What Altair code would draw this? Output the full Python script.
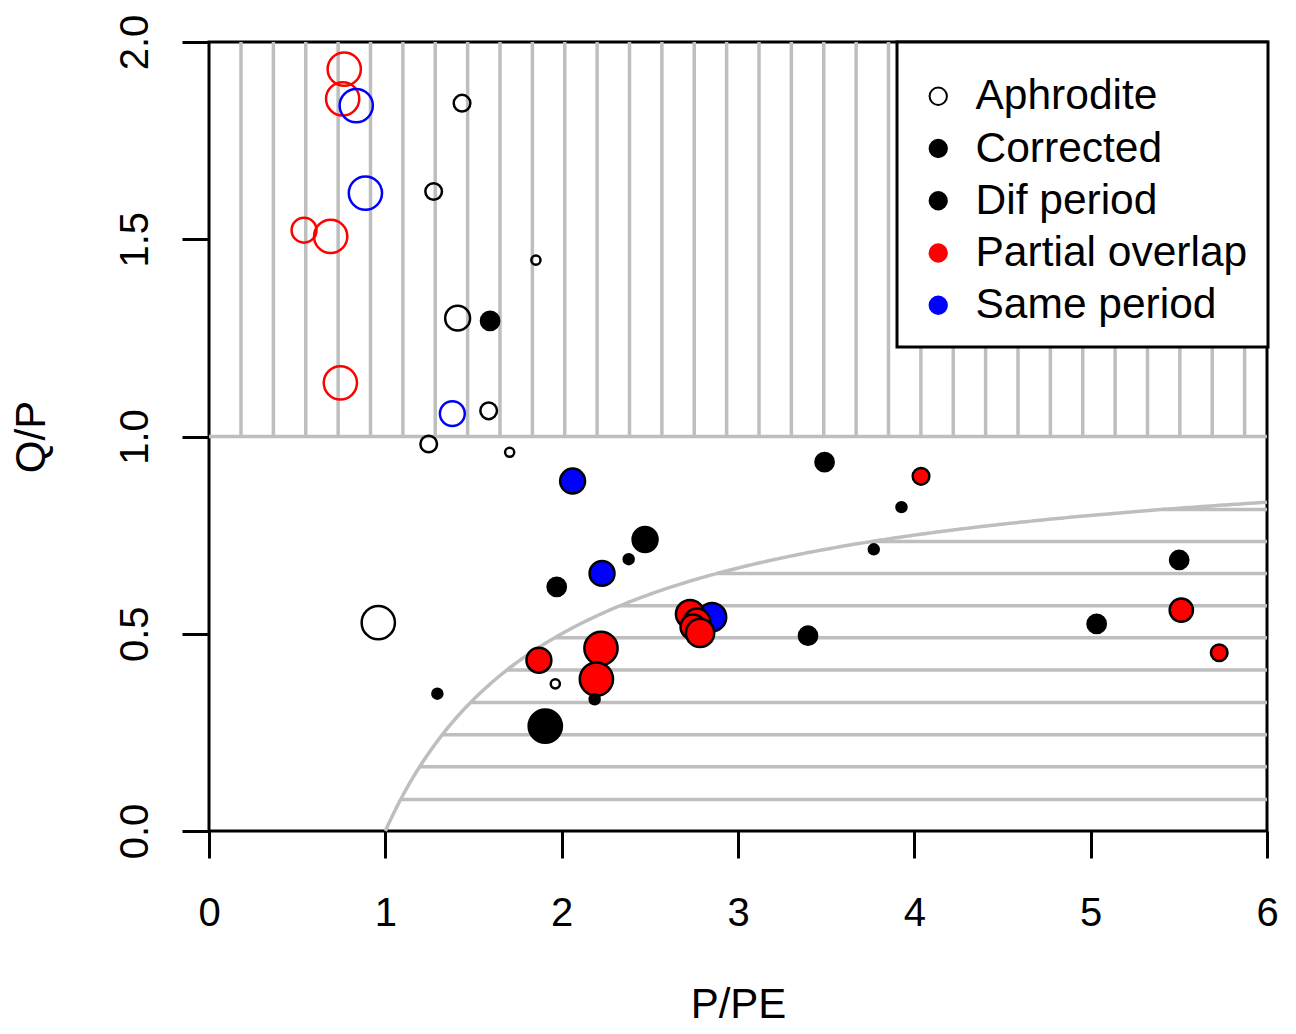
import altair as alt
import pandas as pd
import numpy as np

# ---------------- data ----------------
groups = ["Aphrodite", "Corrected", "Dif period", "Partial overlap", "Same period"]
group_colors = ["black", "black", "black", "#FF0000", "#0000FF"]
legend_fill = ["white", "black", "black", "#FF0000", "#0000FF"]

pt_x = [0.767, 0.758, 0.835, 1.435, 0.887, 1.274, 0.539, 0.690, 1.854, 1.410,
        1.594, 0.745, 1.380, 1.586,
        1.246, 1.705, 2.062, 2.473, 2.380, 2.229, 1.972, 0.960, 2.223, 1.871,
        2.197, 1.964, 1.295, 2.187, 1.907, 3.491, 4.038, 3.927, 3.770,
        2.853, 2.728, 2.768, 2.745, 2.785,
        3.397, 5.502, 5.514, 5.034, 5.729]
pt_y = [1.931, 1.856, 1.839, 1.845, 1.617, 1.621, 1.523, 1.507, 1.447, 1.300,
        1.293, 1.136, 1.058, 1.065,
        0.981, 0.960, 0.887, 0.739, 0.689, 0.653, 0.619, 0.528, 0.463, 0.433,
        0.385, 0.373, 0.348, 0.334, 0.266, 0.935, 0.899, 0.821, 0.714,
        0.542, 0.550, 0.530, 0.517, 0.502,
        0.495, 0.687, 0.560, 0.525, 0.452]
pt_w = [20, 20, 20, 10, 20, 10, 15, 20, 5.5, 15,
        11, 20, 15, 10,
        10, 5.5, 15, 15, 6, 15, 11, 20, 20, 15,
        20, 5.5, 6, 6, 20, 11, 10, 6, 6,
        17, 17, 16, 15, 17,
        11, 11, 14, 11, 10]
pt_group = ["Partial overlap", "Partial overlap", "Same period", "Aphrodite", "Same period",
            "Aphrodite", "Partial overlap", "Partial overlap", "Aphrodite", "Aphrodite",
            "Dif period", "Partial overlap", "Same period", "Aphrodite",
            "Aphrodite", "Aphrodite", "Same period", "Dif period", "Corrected", "Same period",
            "Dif period", "Aphrodite", "Partial overlap", "Partial overlap",
            "Partial overlap", "Aphrodite", "Corrected", "Corrected", "Dif period",
            "Dif period", "Partial overlap", "Corrected", "Corrected",
            "Same period", "Partial overlap", "Partial overlap", "Partial overlap", "Partial overlap",
            "Dif period", "Dif period", "Partial overlap", "Dif period", "Partial overlap"]
pt_filled = [False] * 10 + [True] + [False] * 3 + \
            [False, False, True, True, True, True, True, False, True, True,
             True, False, True, True, True, True, True, True, True,
             True, True, True, True, True,
             True, True, True, True, True]

# hatching
hatch_h_y = [0.080, 0.163, 0.244, 0.326, 0.408, 0.490, 0.571, 0.653, 0.734, 0.815]
hatch_v_x0 = 0.1815
hatch_v_step = 0.1836

x_ticks = [0, 1, 2, 3, 4, 5, 6]
y_ticks = [0.0, 0.5, 1.0, 1.5, 2.0]

# ---------------- tables ----------------
cmap = dict(zip(groups, group_colors))
pts = pd.DataFrame({"x": pt_x, "y": pt_y, "w": pt_w, "group": pt_group, "filled": pt_filled})
pts["fillc"] = [cmap[g] if f else "transparent" for g, f in zip(pts.group, pts.filled)]
pts["strokec"] = ["black" if f else cmap[g] for g, f in zip(pts.group, pts.filled)]
pts["order"] = range(len(pts))

vlines = pd.DataFrame({"x": [hatch_v_x0 + hatch_v_step * k for k in range(32)]})
vlines["y"] = 1.0
vlines["y2"] = 2.0

hlines = pd.DataFrame({"y": hatch_h_y})
hlines["x"] = 1.0 / (1.0 - hlines["y"])
hlines["x2"] = 6.0

oneline = pd.DataFrame({"x": [0.0], "x2": [6.0], "y": [1.0]})

cx = np.linspace(1.0, 6.0, 300)
curve = pd.DataFrame({"x": cx, "y": 1.0 - 1.0 / cx})

leg = pd.DataFrame({"group": groups, "x": [-1.0] * 5, "y": [-1.0] * 5})

# ---------------- encodings ----------------
FONT = "Liberation Sans"
GRAY = "#BEBEBE"
LW = 3.5

xaxis = alt.Axis(values=x_ticks, format="d", title="P/PE", grid=False, domain=False,
                 tickSize=27, tickWidth=3, tickColor="black",
                 labelFontSize=40, labelFont=FONT, labelColor="black",
                 labelPadding=67, labelBaseline="alphabetic", labelFlush=False,
                 labelOverlap=False, labelBound=False,
                 titleFontSize=42, titleFont=FONT, titleFontWeight="normal", titleColor="black",
                 titleX=529, titleY=186, titleBaseline="alphabetic", titleAlign="center")
yaxis = alt.Axis(values=y_ticks, format=".1f", title="Q/P", grid=False, domain=False,
                 tickSize=27, tickWidth=3, tickColor="black",
                 labelFontSize=40, labelFont=FONT, labelColor="black",
                 labelAngle=270, labelAlign="center", labelBaseline="alphabetic",
                 labelPadding=35, labelFlush=False, labelOverlap=False, labelBound=False,
                 titleFontSize=42, titleFont=FONT, titleFontWeight="normal", titleColor="black",
                 titleAngle=270, titleX=-165, titleY=394.5, titleBaseline="alphabetic",
                 titleAlign="center")

xs = alt.Scale(domain=[0, 6], nice=False, zero=False)
ys = alt.Scale(domain=[0, 2], nice=False, zero=False)
X = alt.X("x:Q", scale=xs, axis=xaxis)
Y = alt.Y("y:Q", scale=ys, axis=yaxis)

vl = alt.Chart(vlines).mark_rule(color=GRAY, strokeWidth=LW).encode(x=X, y=Y, y2="y2:Q")
hl = alt.Chart(hlines).mark_rule(color=GRAY, strokeWidth=LW).encode(x=X, x2="x2:Q", y=Y)
one = alt.Chart(oneline).mark_rule(color=GRAY, strokeWidth=LW).encode(x=X, x2="x2:Q", y=Y)
cur = alt.Chart(curve).mark_line(color=GRAY, strokeWidth=LW).encode(x=X, y=Y)

points = alt.Chart(pts).mark_point(shape="circle", opacity=1, strokeWidth=2.5, fillOpacity=1).encode(
    x=X, y=Y,
    fill=alt.Fill("fillc:N", scale=None, legend=None),
    stroke=alt.Stroke("strokec:N", scale=None, legend=None),
    size=alt.Size("w:Q", scale=alt.Scale(type="pow", exponent=2, domain=[0, 20],
                                          range=[0, 3.14159 * 18.75 ** 2]), legend=None),
    order=alt.Order("order:Q"),
)

legend = alt.Legend(title=" ", titleFontSize=4, titlePadding=9,
                    orient="none", legendX=688, legendY=0,
                    fillColor="white", strokeColor="black",
                    padding=20, rowPadding=9.25, labelFontSize=42.5, labelFont=FONT,
                    labelColor="black", labelOffset=16, labelLimit=500, symbolSize=300,
                    symbolStrokeWidth=2, symbolType="circle", cornerRadius=0)

legl = alt.Chart(leg).mark_point(shape="circle", opacity=1, filled=False, clip=True, size=300).encode(
    x=X, y=Y,
    fill=alt.Fill("group:N", scale=alt.Scale(domain=groups, range=legend_fill), legend=legend),
    stroke=alt.Stroke("group:N", scale=alt.Scale(domain=groups, range=group_colors), legend=legend),
)

chart = alt.layer(vl, hl, one, cur, points, legl).resolve_scale(
    fill="independent", stroke="independent"
).properties(
    width=1058, height=789,
    autosize=alt.AutoSizeParams(type="none"),
    padding={"left": 201, "top": 34, "right": 21, "bottom": 195},
).configure_view(stroke="black", strokeWidth=3).configure_legend(strokeWidth=3)

chart.save("out.html", embed_options={"renderer": "svg", "actions": False})
